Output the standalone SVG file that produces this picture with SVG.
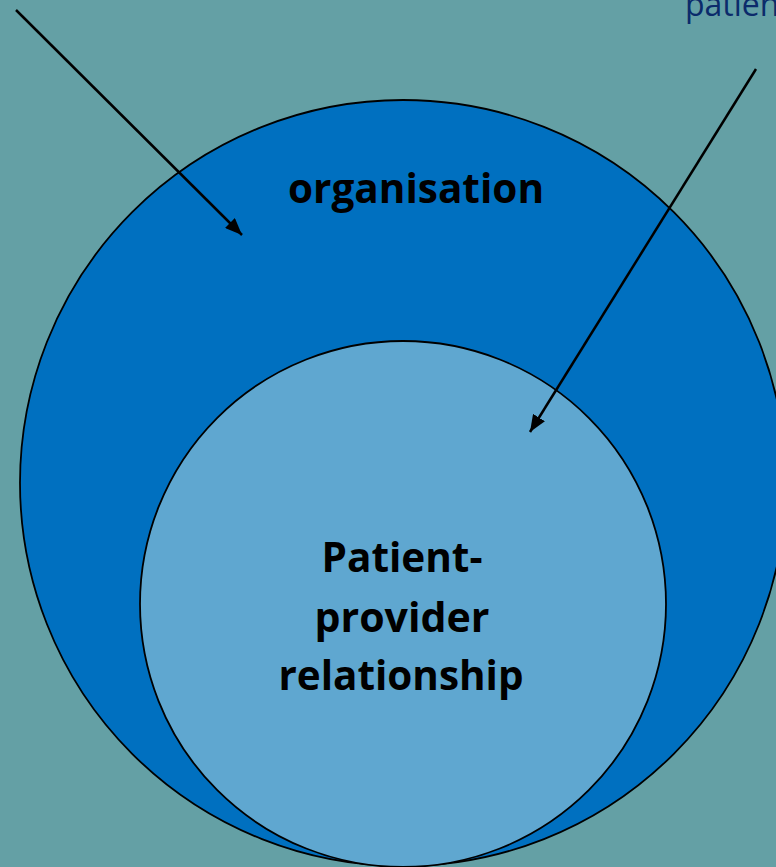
<svg xmlns="http://www.w3.org/2000/svg" width="776" height="867" viewBox="0 0 776 867">
  <style>
    .ring { stroke: #000; stroke-width: 1.8; }
    .label { font-family: "Open Sans", "Liberation Sans", sans-serif; font-weight: 700; font-size: 42px; fill: #000; text-anchor: middle; }
    .note { font-family: "Open Sans", "Liberation Sans", sans-serif; font-size: 32px; fill: #0B2B6B; }
    .arrow { stroke: #000; stroke-width: 2.5; fill: none; marker-end: url(#head); }
  </style>
  <defs>
    <marker id="head" markerUnits="userSpaceOnUse" markerWidth="18" markerHeight="14" refX="17" refY="7" orient="auto">
      <path d="M0,0 L17,7 L0,14 Z" fill="#000"/>
    </marker>
  </defs>

  <rect width="776" height="867" fill="#64A0A5"/>

  <g id="organisation">
    <circle class="ring" cx="403" cy="483" r="383" fill="#0070C0"/>
    <text class="label" x="416" y="203" textLength="256" lengthAdjust="spacingAndGlyphs">organisation</text>
  </g>

  <g id="relationship">
    <circle class="ring" cx="403" cy="604" r="263" fill="#5FA7D0"/>
    <text class="label" x="402" y="572" textLength="161" lengthAdjust="spacingAndGlyphs">Patient-</text>
    <text class="label" x="402" y="632" textLength="175" lengthAdjust="spacingAndGlyphs">provider</text>
    <text class="label" x="401" y="690" textLength="245" lengthAdjust="spacingAndGlyphs">relationship</text>
  </g>

  <g id="patient-note">
    <text class="note" x="685" y="16">patien</text>
  </g>

  <g id="connectors">
    <line class="arrow" x1="16" y1="10" x2="242" y2="235"/>
    <line class="arrow" x1="756" y1="69" x2="530" y2="432"/>
  </g>
</svg>
